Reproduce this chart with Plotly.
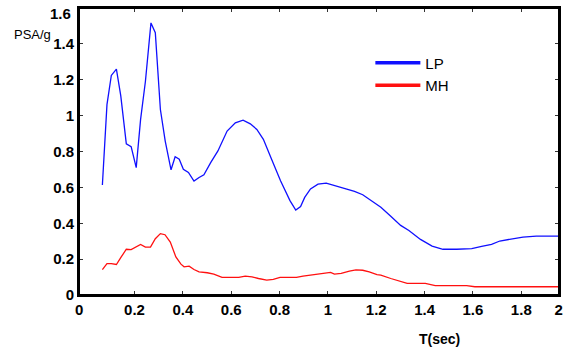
import plotly.graph_objects as go

# LP spectrum (period in s, PSA/g)
lp_T = [0.067, 0.086, 0.104, 0.125, 0.143, 0.166, 0.186, 0.207, 0.225, 0.245, 0.268, 0.286,
        0.307, 0.327, 0.351, 0.368, 0.385, 0.402, 0.423, 0.446, 0.467, 0.487, 0.515, 0.545,
        0.583, 0.617, 0.649, 0.679, 0.706, 0.733, 0.767, 0.804, 0.843, 0.867, 0.887, 0.904,
        0.928, 0.959, 0.993, 1.034, 1.075, 1.110, 1.144, 1.178, 1.219, 1.260, 1.301, 1.335,
        1.383, 1.431, 1.476, 1.533, 1.595, 1.636, 1.677, 1.711, 1.759, 1.807, 1.862, 1.957]
lp_psa = [0.613, 1.061, 1.224, 1.259, 1.111, 0.843, 0.827, 0.710, 0.978, 1.190, 1.517, 1.462,
          1.034, 0.858, 0.698, 0.771, 0.757, 0.701, 0.683, 0.635, 0.655, 0.670, 0.738, 0.803,
          0.914, 0.960, 0.975, 0.954, 0.923, 0.868, 0.757, 0.637, 0.526, 0.474, 0.493, 0.544,
          0.591, 0.618, 0.624, 0.609, 0.594, 0.578, 0.559, 0.526, 0.489, 0.439, 0.388, 0.360,
          0.310, 0.273, 0.255, 0.255, 0.259, 0.271, 0.282, 0.301, 0.310, 0.323, 0.328, 0.328]

# MH spectrum
mh_T = [0.067, 0.086, 0.104, 0.125, 0.145, 0.166, 0.186, 0.207, 0.225, 0.245, 0.266, 0.286,
        0.307, 0.326, 0.348, 0.371, 0.392, 0.405, 0.426, 0.446, 0.467, 0.501, 0.528, 0.562,
        0.597, 0.631, 0.658, 0.686, 0.713, 0.747, 0.774, 0.802, 0.836, 0.870, 0.897, 0.932,
        0.959, 0.986, 1.011, 1.027, 1.055, 1.089, 1.116, 1.144, 1.171, 1.203, 1.219, 1.260,
        1.301, 1.328, 1.403, 1.444, 1.574, 1.608, 1.957]
mh_psa = [0.142, 0.175, 0.175, 0.170, 0.212, 0.255, 0.253, 0.267, 0.282, 0.267, 0.267, 0.314,
          0.342, 0.336, 0.295, 0.212, 0.172, 0.157, 0.161, 0.142, 0.129, 0.124, 0.116, 0.098,
          0.098, 0.098, 0.105, 0.101, 0.092, 0.083, 0.087, 0.098, 0.098, 0.098, 0.105, 0.111,
          0.115, 0.118, 0.126, 0.116, 0.120, 0.133, 0.140, 0.138, 0.129, 0.114, 0.111, 0.092,
          0.074, 0.065, 0.065, 0.052, 0.052, 0.046, 0.046]

x_tickvals = [-0.029, 0.2, 0.4, 0.6, 0.8, 1.0, 1.2, 1.4, 1.6, 1.8, 1.955]
x_ticktext = ["0", "0.2", "0.4", "0.6", "0.8", "1", "1.2", "1.4", "1.6", "1.8", "2"]
y_tickvals = [0, 0.2, 0.4, 0.6, 0.8, 1.0, 1.2, 1.4, 1.6]
y_ticktext = ["0", "0.2", "0.4", "0.6", "0.8", "1", "1.2", "1.4", ""]
y_top_label = "1.6"

FONT = "Arial, Liberation Sans, sans-serif"

fig = go.Figure()
fig.add_trace(go.Scatter(x=lp_T, y=lp_psa, mode="lines", name="LP",
                         line=dict(color="#1010ff", width=1.3), showlegend=False))
fig.add_trace(go.Scatter(x=mh_T, y=mh_psa, mode="lines", name="MH",
                         line=dict(color="#ff1010", width=1.3), showlegend=False))
# legend entries
fig.add_trace(go.Scatter(x=[None], y=[None], mode="lines", name="LP",
                         line=dict(color="#1010ff", width=3.5)))
fig.add_trace(go.Scatter(x=[None], y=[None], mode="lines", name="MH",
                         line=dict(color="#ff1010", width=3.5)))

axis_common = dict(showline=True, linecolor="black", linewidth=2, mirror="allticks",
                   ticks="inside", ticklen=4, tickwidth=1, tickcolor="#333",
                   showgrid=False, zeroline=False,
                   tickfont=dict(family=FONT, size=15, color="black", weight="bold"))

fig.update_layout(
    width=569, height=352,
    margin=dict(l=79, r=6, t=6, b=57),
    paper_bgcolor="white", plot_bgcolor="white",
    xaxis=dict(range=[-0.0297, 1.956], tickvals=x_tickvals, ticktext=x_ticktext, **axis_common),
    yaxis=dict(range=[0, 1.6], tickvals=y_tickvals, ticktext=y_ticktext, **axis_common),
    legend=dict(x=0.607, y=0.866, xanchor="left", yanchor="top", bgcolor="rgba(0,0,0,0)",
                font=dict(family=FONT, size=15, color="black"), itemwidth=45,
                tracegroupgap=0),
    shapes=[dict(type="rect", xref="paper", yref="paper", x0=0, x1=1, y0=0, y1=1,
                 line=dict(color="black", width=2), fillcolor="rgba(0,0,0,0)", layer="above")],
    annotations=[
        dict(text=y_top_label, xref="paper", yref="paper", x=(73 - 79) / 484, y=(295 - 12) / 289,
             xanchor="right", yanchor="middle", showarrow=False,
             font=dict(family=FONT, size=15, color="black", weight="bold")),
        dict(text="PSA/g", xref="paper", yref="paper", x=-0.097, y=0.9066,
             xanchor="center", yanchor="middle", showarrow=False,
             font=dict(family=FONT, size=13, color="black")),
        dict(text="T(sec)", xref="paper", yref="paper", x=(443 - 79) / 484, y=(295 - 339) / 289,
             xanchor="center", yanchor="middle", showarrow=False,
             font=dict(family=FONT, size=14, color="black", weight="bold")),
    ],
)

fig.write_html("out.html")
